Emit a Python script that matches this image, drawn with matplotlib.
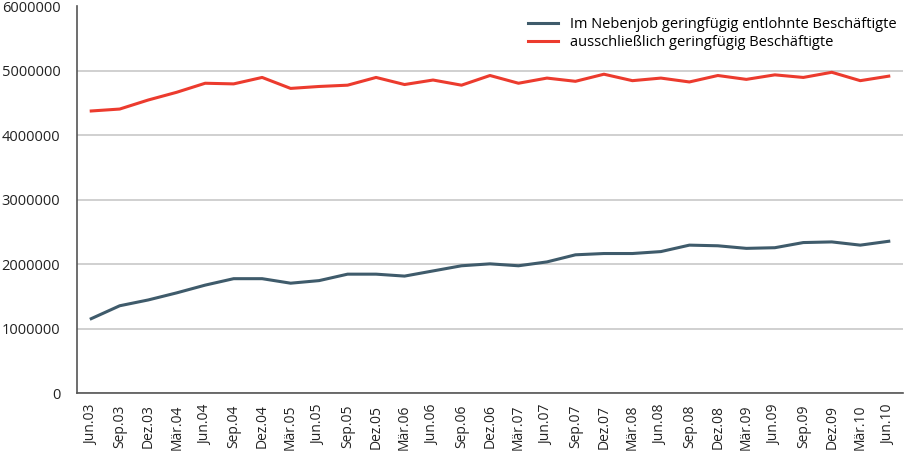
import matplotlib
matplotlib.use("Agg")
import matplotlib.pyplot as plt

quarters = ["Jun.03", "Sep.03", "Dez.03", "Mär.04", "Jun.04", "Sep.04", "Dez.04",
            "Mär.05", "Jun.05", "Sep.05", "Dez.05", "Mär.06", "Jun.06", "Sep.06",
            "Dez.06", "Mär.07", "Jun.07", "Sep.07", "Dez.07", "Mär.08", "Jun.08",
            "Sep.08", "Dez.08", "Mär.09", "Jun.09", "Sep.09", "Dez.09", "Mär.10",
            "Jun.10"]

# Im Nebenjob geringfuegig entlohnte Beschaeftigte
nebenjob = [1160000, 1360000, 1450000, 1560000, 1680000, 1780000, 1780000,
            1710000, 1750000, 1850000, 1850000, 1820000, 1900000, 1980000,
            2010000, 1980000, 2040000, 2150000, 2170000, 2170000, 2200000,
            2300000, 2290000, 2250000, 2260000, 2340000, 2350000, 2300000,
            2360000]

# ausschliesslich geringfuegig Beschaeftigte
ausschl = [4380000, 4410000, 4550000, 4670000, 4810000, 4800000, 4900000,
           4730000, 4760000, 4780000, 4900000, 4790000, 4860000, 4780000,
           4930000, 4810000, 4890000, 4840000, 4950000, 4850000, 4890000,
           4830000, 4930000, 4870000, 4940000, 4900000, 4980000, 4850000,
           4920000]

labels = ["Im Nebenjob geringfügig entlohnte Beschäftigte",
          "ausschließlich geringfügig Beschäftigte"]
colors = ["#3f5b6b", "#ec3b2e"]

plt.rcParams['font.family'] = ['Open Sans', 'DejaVu Sans']

fig = plt.figure(figsize=(9.09, 4.54), dpi=100)
ax = fig.add_axes([0.0847, 0.1333, 0.9087, 0.8524])

x = list(range(len(quarters)))
ax.plot(x, nebenjob, color=colors[0], lw=2.2, label=labels[0])
ax.plot(x, ausschl, color=colors[1], lw=2.2, label=labels[1])

ax.set_xlim(-0.5, len(quarters) - 0.5)
ax.set_ylim(0, 6000000)
ax.set_yticks(range(0, 6000001, 1000000))
ax.set_yticklabels([str(v) for v in range(0, 6000001, 1000000)], fontsize=10.5,
                   color="#222222")
ax.set_xticks(x)
ax.set_xticklabels(quarters, rotation=90, fontsize=10, color="#222222")
ax.tick_params(axis="both", length=0)
ax.tick_params(axis="y", pad=12)
ax.tick_params(axis="x", pad=8)

ax.yaxis.grid(True, color="#c8c8c8", lw=1.2)
ax.get_ygridlines()[-1].set_visible(False)
ax.set_axisbelow(True)
for s in ["top", "right"]:
    ax.spines[s].set_visible(False)
ax.spines["left"].set_color("#555555")
ax.spines["bottom"].set_color("#555555")
ax.spines["left"].set_linewidth(1.2)
ax.spines["bottom"].set_linewidth(1.2)

ax.legend(loc="upper right", frameon=False, fontsize=10.5, handlelength=2.1,
          handletextpad=0.8, labelspacing=0.2, bbox_to_anchor=(1.0, 0.99),
          borderaxespad=0.05)

fig.savefig("out.png", dpi=100)
